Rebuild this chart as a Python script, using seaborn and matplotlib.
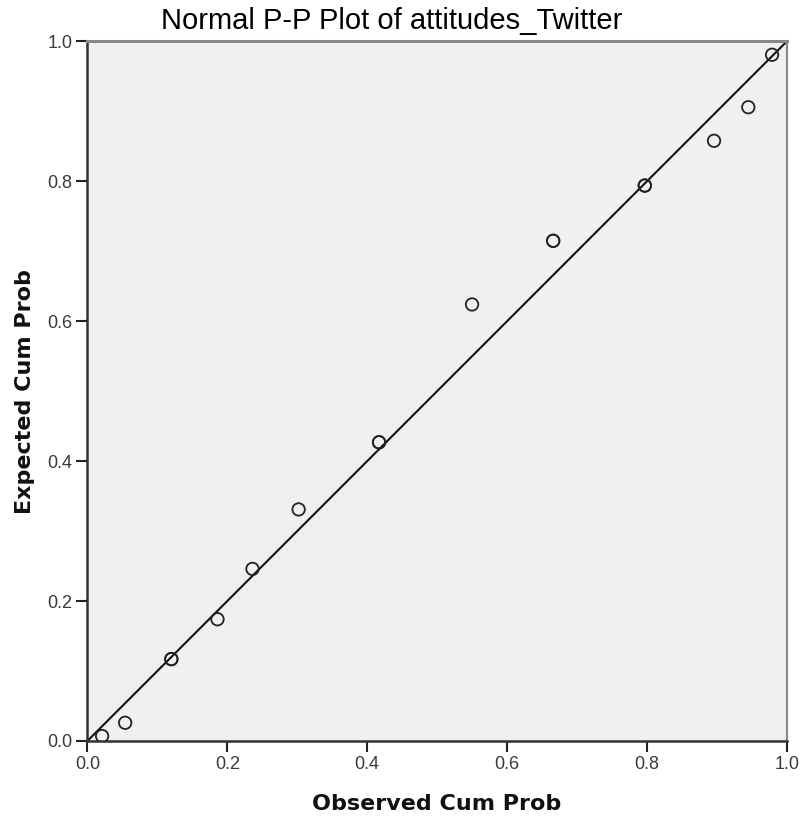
import pandas as pd
import seaborn as sns
import matplotlib.pyplot as plt

# observed vs expected cumulative probabilities
observed = [0.021, 0.054, 0.120, 0.120, 0.186, 0.236, 0.302, 0.417, 0.417,
            0.550, 0.666, 0.666, 0.797, 0.797, 0.896, 0.945, 0.979]
expected = [0.007, 0.026, 0.117, 0.117, 0.174, 0.246, 0.331, 0.427, 0.427,
            0.624, 0.715, 0.715, 0.794, 0.794, 0.858, 0.906, 0.981]
ref_line = [0.0, 1.0]
ticks = [0.0, 0.2, 0.4, 0.6, 0.8, 1.0]

data = pd.DataFrame({'Observed': observed, 'Expected': expected})

sns.set_style("white")
plt.rcParams['font.family'] = ['Liberation Sans', 'DejaVu Sans']

fig = plt.figure(figsize=(8.02, 8.21), dpi=100)
ax = fig.add_axes([0.109, 0.0975, 0.872, 0.852])
ax.set_facecolor('#f0f0f0')

# diagonal reference line
ax.plot(ref_line, ref_line, color='#111111', linewidth=1.5, zorder=2)

sns.scatterplot(data=data, x='Observed', y='Expected', ax=ax, marker='o', s=80,
                facecolor='none', edgecolor='#222222', linewidth=1.3, zorder=3)

ax.set_xlim(0, 1)
ax.set_ylim(0, 1)
ax.set_xticks(ticks)
ax.set_yticks(ticks)
ax.set_xticklabels([f'{t:.1f}' for t in ticks], fontsize=13, color='#3a3a3a')
ax.set_yticklabels([f'{t:.1f}' for t in ticks], fontsize=13, color='#3a3a3a')
ax.tick_params(axis='both', direction='out', length=8, width=1.5, color='#222222',
               bottom=True, left=True, pad=3)

for side in ['left', 'bottom']:
    ax.spines[side].set_color('#333333')
    ax.spines[side].set_linewidth(1.8)
ax.spines['top'].set_color('#888888')
ax.spines['top'].set_linewidth(2.2)
ax.spines['right'].set_color('#888888')
ax.spines['right'].set_linewidth(1.5)

ax.set_title('Normal P-P Plot of attitudes_Twitter', fontsize=21, color='black',
             pad=9, x=0.435)
ax.set_xlabel('Observed Cum Prob', fontsize=16, fontweight='bold', labelpad=15,
              family='DejaVu Sans', color='#111111')
ax.set_ylabel('Expected Cum Prob', fontsize=16, fontweight='bold', labelpad=9,
              family='DejaVu Sans', color='#111111')

plt.savefig('out.png', dpi=100)
